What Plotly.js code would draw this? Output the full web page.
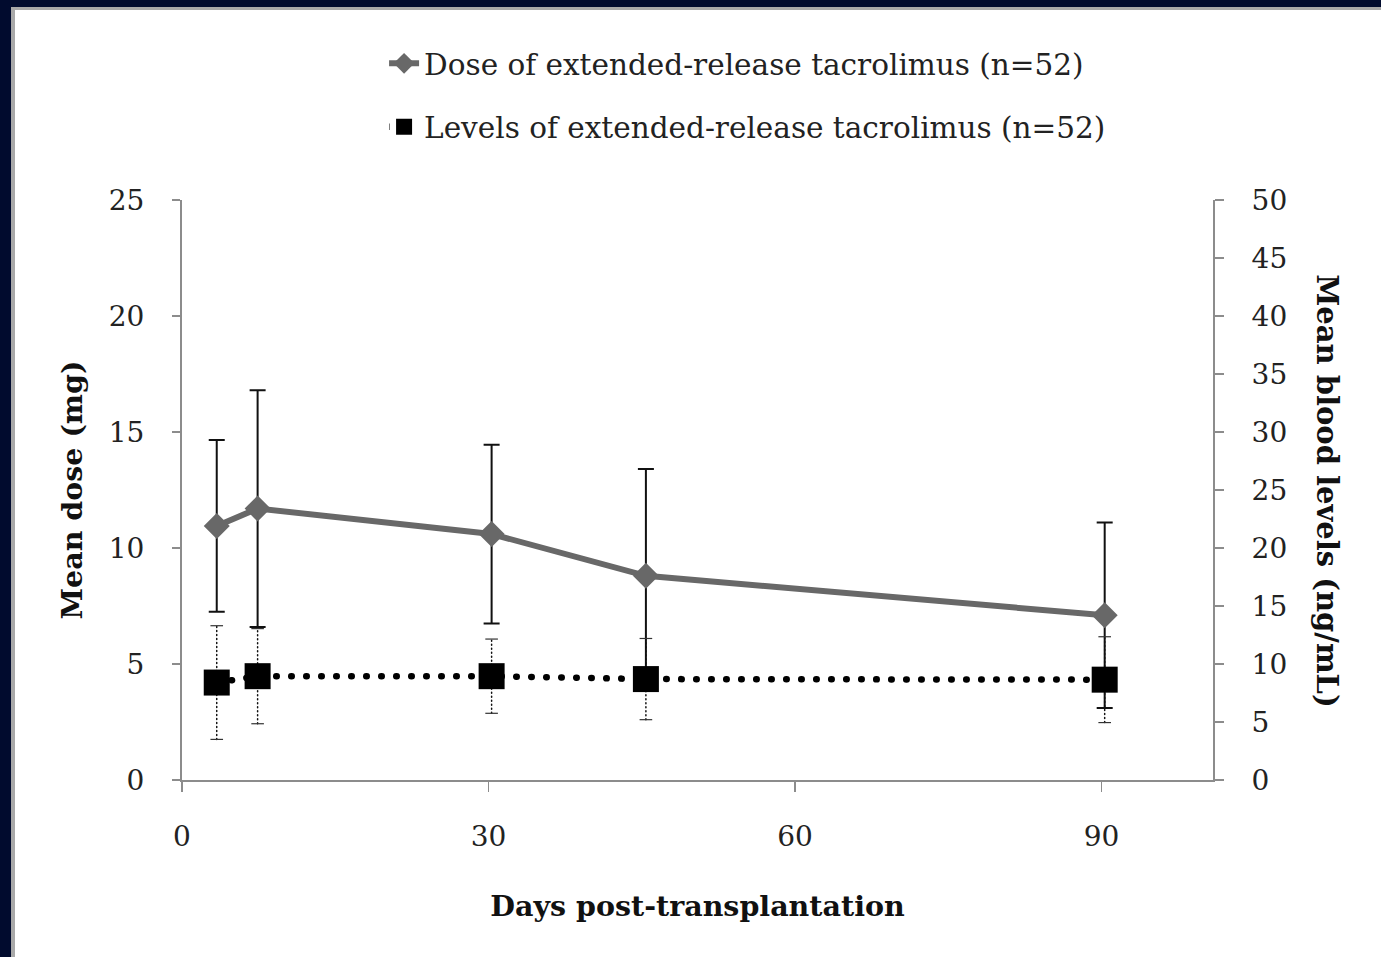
<!DOCTYPE html>
<html>
<head>
<meta charset="utf-8">
<script src="https://cdn.plot.ly/plotly-3.0.1.min.js"></script>
<style>
  html, body { margin: 0; padding: 0; background: #010b2e; width: 1381px; height: 957px; overflow: hidden; }
  #chart { position: absolute; left: 11px; top: 7px; width: 1366px; height: 947px;
           border-left: 4px solid #a9a9a9; border-top: 3px solid #a9a9a9; background: #ffffff; }
  .scatterlayer .js-line { stroke-linecap: round; }
</style>
</head>
<body>
<div id="chart"></div>
<script>
// ---- data ----
const days       = [3.4, 7.4, 30.3, 45.4, 90.3];
const doseMean   = [10.95, 11.7, 10.6, 8.8, 7.1];     // mg (left axis)
const doseSD     = [3.7, 5.1, 3.85, 4.6, 4.0];
const levelMean  = [8.4, 8.95, 8.95, 8.7, 8.65];      // ng/mL (right axis)
const levelSD    = [4.9, 4.1, 3.2, 3.5, 3.7];
const doseName   = 'Dose of extended-release tacrolimus (n=52)';
const levelName  = 'Levels of extended-release tacrolimus (n=52)';
const xTicks     = [0, 30, 60, 90];
const yTicks     = [0, 5, 10, 15, 20, 25];
const y2Ticks    = [0, 5, 10, 15, 20, 25, 30, 35, 40, 45, 50];

// dotted error bars for levels: build segment arrays from the data
const segX = [], segY = [], capX = [], capY = [];
days.forEach((d, i) => {
  segX.push(d, d, null);
  segY.push(levelMean[i] - levelSD[i], levelMean[i] + levelSD[i], null);
  capX.push(d, d);
  capY.push(levelMean[i] - levelSD[i], levelMean[i] + levelSD[i]);
});

const serif = 'DejaVu Serif, serif';

const traces = [
  { // level error stems (dotted)
    x: segX, y: segY, yaxis: 'y2', mode: 'lines', showlegend: false, hoverinfo: 'skip',
    line: { color: '#111', width: 1.5, dash: '1px,3px' }
  },
  { // level error caps
    x: capX, y: capY, yaxis: 'y2', mode: 'markers', showlegend: false, hoverinfo: 'skip',
    marker: { symbol: 'line-ew', size: 9, line: { color: '#333', width: 1.2 } }
  },
  { // dose
    x: days, y: doseMean, name: doseName, legendgroup: 'a', mode: 'lines+markers',
    line: { color: '#686868', width: 6 },
    marker: { symbol: 'diamond', size: 20, color: '#686868' },
    error_y: { type: 'data', array: doseSD, visible: true, color: '#111', thickness: 2, width: 8 }
  },
  { // levels
    x: days, y: levelMean, name: levelName, legendgroup: 'b', yaxis: 'y2', mode: 'lines+markers',
    line: { color: '#000', width: 6.5, dash: '0.5px,14.5px' },
    marker: { symbol: 'square', size: 26, color: '#000' }
  }
];

const layout = {
  width: 1366, height: 947,
  margin: { l: 167, r: 168, t: 190, b: 177 },
  paper_bgcolor: '#ffffff', plot_bgcolor: '#ffffff',
  showlegend: true,
  legend: {
    x: 0.196, y: 1.28, xanchor: 'left', yanchor: 'top',
    font: { family: serif, size: 29.5, color: '#222' },
    tracegroupgap: 22, traceorder: 'grouped', bgcolor: 'rgba(0,0,0,0)'
  },
  xaxis: {
    range: [0, 100.9], tickvals: xTicks, ticktext: xTicks.map(String),
    showline: true, linecolor: '#8c8c8c', linewidth: 2, zeroline: false, showgrid: false,
    ticks: 'outside', ticklen: 10, tickwidth: 1.5, tickcolor: '#8c8c8c',
    tickfont: { family: serif, size: 28, color: '#222' }, ticklabelstandoff: 20,
    title: { text: 'Days post-transplantation', font: { family: serif, size: 28.5, color: '#111', weight: 'bold' }, standoff: 44 }
  },
  yaxis: {
    range: [0, 25], tickvals: yTicks, ticktext: yTicks.map(String),
    showline: true, linecolor: '#8c8c8c', linewidth: 2, zeroline: false, showgrid: false,
    ticks: 'outside', ticklen: 8, tickwidth: 1.5, tickcolor: '#8c8c8c',
    tickfont: { family: serif, size: 28, color: '#222' }, ticklabelstandoff: 22,
    title: { text: 'Mean dose (mg)', font: { family: serif, size: 28.5, color: '#111', weight: 'bold' }, standoff: 18 }
  },
  yaxis2: {
    range: [0, 50], tickvals: y2Ticks, ticktext: y2Ticks.map(String),
    overlaying: 'y', side: 'right',
    showline: true, linecolor: '#8c8c8c', linewidth: 2, zeroline: false, showgrid: false,
    ticks: 'outside', ticklen: 9, tickwidth: 1.5, tickcolor: '#8c8c8c',
    tickfont: { family: serif, size: 28, color: '#222' }, ticklabelstandoff: 22
  },
  annotations: [{
    text: 'Mean blood levels (ng/mL)', xref: 'paper', yref: 'paper',
    x: 1.1106, y: 0.498, xanchor: 'center', yanchor: 'middle', textangle: 90, showarrow: false,
    font: { family: serif, size: 29, color: '#111', weight: 'bold' }
  }]
};

Plotly.newPlot('chart', traces, layout, { displayModeBar: false, staticPlot: true });
</script>
</body>
</html>
